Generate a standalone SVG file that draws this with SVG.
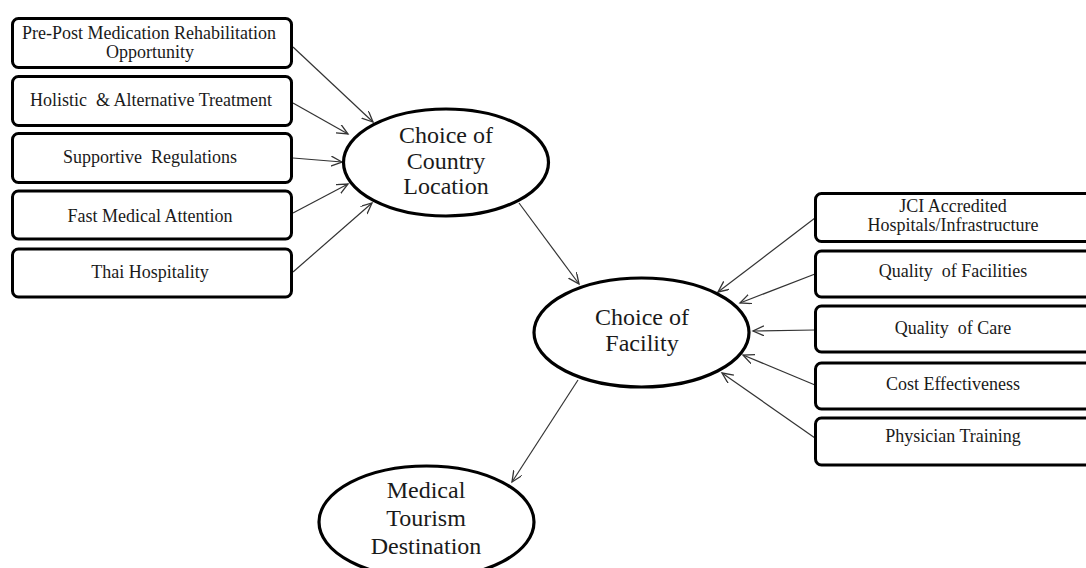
<svg xmlns="http://www.w3.org/2000/svg" width="1086" height="568" viewBox="0 0 1086 568">
<style>
.box{fill:#fff;stroke:#000;stroke-width:3}
.ell{fill:#fff;stroke:#000;stroke-width:3.2}
text{font-family:'Liberation Serif','DejaVu Serif',serif;fill:#1a1a1a;text-anchor:middle}
.bt{font-size:18px}
.rt{font-size:18px}
.et{font-size:24px}
.con{stroke:#333;stroke-width:1.2;fill:none;marker-end:url(#arr)}
</style>
<defs>
<marker id="arr" markerUnits="userSpaceOnUse" markerWidth="14" markerHeight="12" refX="11" refY="5" orient="auto">
<path d="M0,0 L11,5 L0,10" fill="none" stroke="#333" stroke-width="1.3"/>
</marker>
</defs>
<rect width="1086" height="568" fill="#fff"/>
<g id="connectors">
<line class="con" x1="293" y1="47" x2="373" y2="122"/>
<line class="con" x1="293" y1="103" x2="348" y2="134"/>
<line class="con" x1="293" y1="158" x2="342" y2="162"/>
<line class="con" x1="293" y1="213" x2="348" y2="184"/>
<line class="con" x1="293" y1="272" x2="372" y2="203"/>
<line class="con" x1="519" y1="203" x2="579" y2="284"/>
<line class="con" x1="815" y1="218" x2="718" y2="292"/>
<line class="con" x1="815" y1="274" x2="740" y2="303"/>
<line class="con" x1="815" y1="330" x2="753" y2="331"/>
<line class="con" x1="815" y1="385" x2="743" y2="355"/>
<line class="con" x1="815" y1="438" x2="722" y2="373"/>
<line class="con" x1="578" y1="380" x2="512" y2="482"/>
</g>
<g id="n-prepost">
<rect class="box" x="12.5" y="18.5" width="279" height="49" rx="6"/>
<text class="bt" x="149" y="39">Pre-Post Medication Rehabilitation</text>
<text class="bt" x="150" y="58">Opportunity</text>
</g>
<g id="n-holistic">
<rect class="box" x="12.5" y="76.5" width="279" height="49" rx="6"/>
<text class="bt" x="151" y="106" xml:space="preserve">Holistic  &amp; Alternative Treatment</text>
</g>
<g id="n-supportive">
<rect class="box" x="12.5" y="133.5" width="279" height="49" rx="6"/>
<text class="bt" x="150" y="163" xml:space="preserve">Supportive  Regulations</text>
</g>
<g id="n-fast">
<rect class="box" x="12.5" y="191" width="279" height="48" rx="6"/>
<text class="bt" x="150" y="222">Fast Medical Attention</text>
</g>
<g id="n-thai">
<rect class="box" x="12.5" y="249" width="279" height="48" rx="6"/>
<text class="bt" x="150" y="278">Thai Hospitality</text>
</g>
<g id="n-country">
<ellipse class="ell" cx="446" cy="162.5" rx="102.5" ry="53.5"/>
<text class="et" x="446" y="143">Choice of</text>
<text class="et" x="446" y="169">Country</text>
<text class="et" x="446" y="194">Location</text>
</g>
<g id="n-facility">
<ellipse class="ell" cx="641.5" cy="332.5" rx="107.5" ry="54.5"/>
<text class="et" x="642" y="325">Choice of</text>
<text class="et" x="642" y="351">Facility</text>
</g>
<g id="n-destination">
<ellipse class="ell" cx="426.5" cy="522" rx="107.5" ry="56"/>
<text class="et" x="426" y="498">Medical</text>
<text class="et" x="426" y="526">Tourism</text>
<text class="et" x="426" y="554">Destination</text>
</g>
<g id="n-jci">
<rect class="box" x="815.5" y="193.5" width="280" height="48" rx="6"/>
<text class="rt" x="953" y="212">JCI Accredited</text>
<text class="rt" x="953" y="231">Hospitals/Infrastructure</text>
</g>
<g id="n-qfac">
<rect class="box" x="815.5" y="251" width="280" height="46" rx="6"/>
<text class="rt" x="953" y="277" xml:space="preserve">Quality  of Facilities</text>
</g>
<g id="n-qcare">
<rect class="box" x="815.5" y="306" width="280" height="46" rx="6"/>
<text class="rt" x="953" y="334" xml:space="preserve">Quality  of Care</text>
</g>
<g id="n-cost">
<rect class="box" x="815.5" y="363" width="280" height="46" rx="6"/>
<text class="rt" x="953" y="390">Cost Effectiveness</text>
</g>
<g id="n-phys">
<rect class="box" x="815.5" y="418" width="280" height="47" rx="6"/>
<text class="rt" x="953" y="442">Physician Training</text>
</g>
</svg>
